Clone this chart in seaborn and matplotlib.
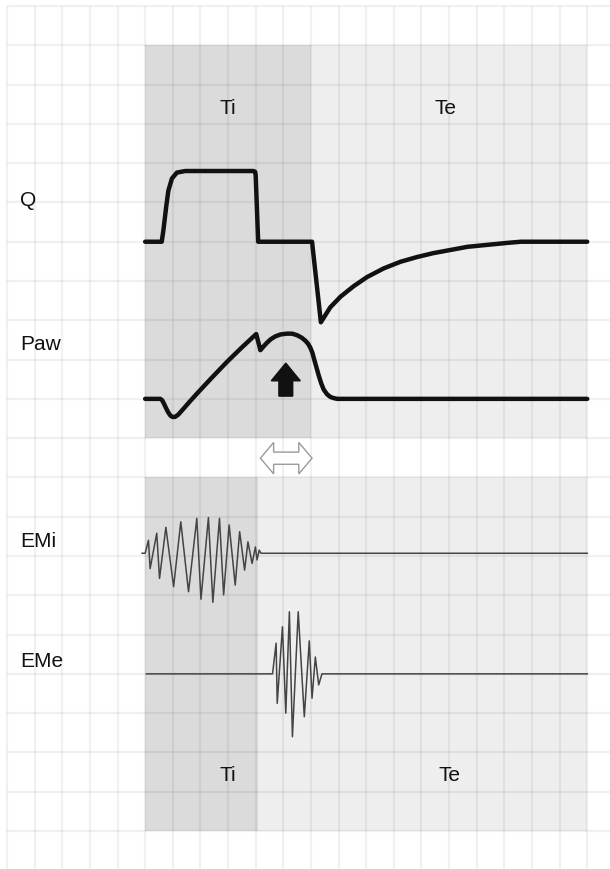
import numpy as np
import pandas as pd
import matplotlib
matplotlib.use("Agg")
import matplotlib.pyplot as plt
from matplotlib.patches import Rectangle, Polygon, FancyArrow
import seaborn as sns

# ---- data (x: time in grid columns, y: height in grid rows from bottom) ----
q_t = [5.0, 5.6, 5.66, 5.76, 5.84, 5.97, 6.15, 6.45, 8.92, 8.98, 9.0, 9.09, 11.04, 11.36,
       11.7, 12.07, 12.55, 13.03, 13.63, 14.24, 14.84, 15.43, 16.05, 16.66, 17.38, 18.1, 18.6, 21.0]
q_val = [15.0, 15.0, 15.29, 15.88, 16.3, 16.61, 16.76, 16.8, 16.8, 16.78, 16.7, 15.0, 15.0, 12.95,
         13.33, 13.6, 13.87, 14.1, 14.32, 14.49, 14.61, 14.71, 14.79, 14.87, 14.92, 14.97, 15.0, 15.0]

paw_t = [5.0, 5.55, 5.62, 5.68, 5.76, 5.84, 5.92, 5.99, 6.08, 6.2, 6.39, 6.6, 6.87, 7.4, 7.96, 8.5, 9.02,
         9.17, 9.28, 9.41, 9.55, 9.71, 9.9, 10.13, 10.32, 10.5, 10.66, 10.8, 10.9, 10.98, 11.05,
         11.1, 11.18, 11.28, 11.37, 11.46, 11.58, 11.7, 11.82, 11.95, 21.0]
paw_val = [11.0, 11.0, 10.96, 10.88, 10.76, 10.65, 10.57, 10.54, 10.54, 10.6, 10.75, 10.92, 11.13, 11.53, 11.94, 12.31, 12.65,
           12.24, 12.33, 12.43, 12.52, 12.59, 12.64, 12.66, 12.66, 12.62, 12.56, 12.48, 12.4, 12.3, 12.18,
           12.05, 11.85, 11.6, 11.4, 11.24, 11.12, 11.05, 11.02, 11.0, 11.0]

emi_t = [4.88, 5.0, 5.12, 5.18, 5.42, 5.52, 5.75, 6.03, 6.29, 6.57, 6.87, 7.02, 7.29, 7.45, 7.69,
         7.84, 8.04, 8.26, 8.42, 8.60, 8.72, 8.87, 8.99, 9.05, 9.13, 9.19, 21.01]
emi_val = [7.07, 7.07, 7.40, 6.68, 7.58, 6.43, 7.73, 6.22, 7.87, 6.09, 7.96, 5.90, 7.98, 5.82, 7.96,
           6.01, 7.79, 6.26, 7.62, 6.64, 7.36, 6.81, 7.23, 6.90, 7.15, 7.07, 7.07]

eme_t = [5.04, 9.61, 9.74, 9.78, 9.97, 10.09, 10.22, 10.33, 10.54, 10.76, 10.94, 11.04, 11.16, 11.28, 11.40, 21.01]
eme_val = [4.0, 4.0, 4.78, 3.25, 5.2, 3.0, 5.58, 2.4, 5.58, 2.91, 4.84, 3.38, 4.43, 3.72, 4.0, 4.0]

row_labels = ["Q", "Paw", "EMi", "EMe"]
row_label_y = [15.9, 12.24, 7.22, 4.17]
phase_labels = ["Ti", "Te", "Ti", "Te"]
phase_label_x = [8.0, 15.87, 8.0, 16.03]
phase_label_y = [18.24, 18.24, 1.28, 1.28]

# ---- figure ----
sns.set_theme(style="white")
plt.rcParams['font.family'] = ['Liberation Sans', 'DejaVu Sans']

fig = plt.figure(figsize=(6.10, 8.69), dpi=100)
ax = fig.add_axes([0, 0, 1, 1])

dark = "#dbdbdb"
light = "#eeeeee"
# shaded phases
ax.add_patch(Rectangle((5, 10), 6, 10, facecolor=dark, edgecolor="none", zorder=0))
ax.add_patch(Rectangle((11, 10), 10, 10, facecolor=light, edgecolor="none", zorder=0))
ax.add_patch(Rectangle((5, 0), 4.08, 9, facecolor=dark, edgecolor="none", zorder=0))
ax.add_patch(Rectangle((9.08, 0), 11.92, 9, facecolor=light, edgecolor="none", zorder=0))

# grid
for i in range(22):
    ax.plot([i, i], [-0.967, 21], color="black", alpha=0.055, lw=1.6, zorder=1, solid_capstyle="butt")
    ax.plot([0, 21.824], [i, i], color="black", alpha=0.055, lw=1.6, zorder=1, solid_capstyle="butt")

# signals
sns.lineplot(x=q_t, y=q_val, sort=False, estimator=None, color="#111111", lw=3.2, ax=ax, zorder=3)
sns.lineplot(x=paw_t, y=paw_val, sort=False, estimator=None, color="#111111", lw=3.2, ax=ax, zorder=3)
sns.lineplot(x=emi_t, y=emi_val, sort=False, estimator=None, color="#444444", lw=1.1, ax=ax, zorder=3)
sns.lineplot(x=eme_t, y=eme_val, sort=False, estimator=None, color="#444444", lw=1.1, ax=ax, zorder=3)
ax.set_xlim(-0.2533, 21.824)
ax.set_ylim(-0.967, 21.153)
ax.axis("off")

# up arrow (filled)
ax.add_patch(FancyArrow(10.09, 11.07, 0, 0.84, width=0.5, head_width=1.05, head_length=0.45,
                        length_includes_head=True, facecolor="#111111", edgecolor="#111111", zorder=4))

# hollow double arrow
xl, xr, yc = 9.17, 11.04, 9.49
hl, hh, sh = 0.48, 0.40, 0.155
dbl = [(xl, yc), (xl + hl, yc + hh), (xl + hl, yc + sh), (xr - hl, yc + sh), (xr - hl, yc + hh),
       (xr, yc), (xr - hl, yc - hh), (xr - hl, yc - sh), (xl + hl, yc - sh), (xl + hl, yc - hh)]
ax.add_patch(Polygon(dbl, closed=True, facecolor="white", edgecolor="#9a9a9a", lw=1.0, zorder=4))

# labels
for lab, yy in zip(row_labels, row_label_y):
    ax.text(0.48, yy, lab, fontsize=15, ha="left", va="baseline", color="#111111", zorder=5)
for lab, xx, yy in zip(phase_labels, phase_label_x, phase_label_y):
    ax.text(xx, yy, lab, fontsize=15, ha="center", va="baseline", color="#111111", zorder=5)

fig.savefig("out.png", dpi=100)
